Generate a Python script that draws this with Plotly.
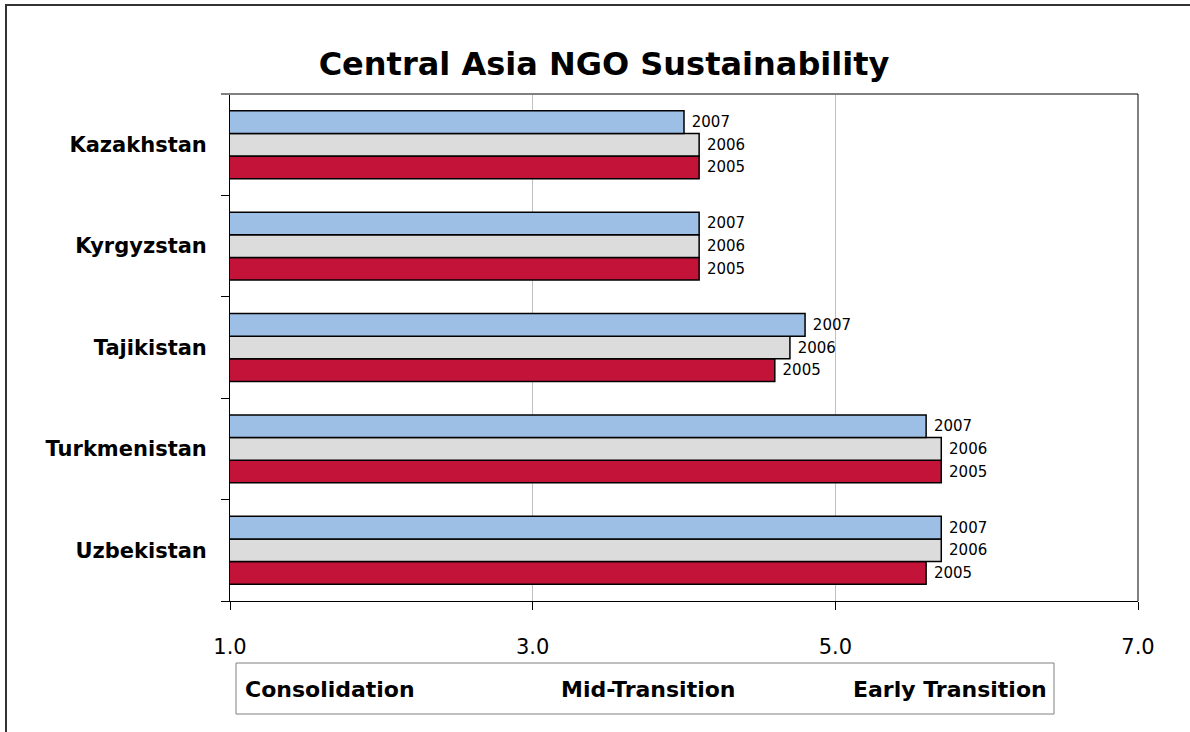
import plotly.graph_objects as go

countries = ["Kazakhstan", "Kyrgyzstan", "Tajikistan", "Turkmenistan", "Uzbekistan"]
years = ["2005", "2006", "2007"]
v2005 = [4.1, 4.1, 4.6, 5.7, 5.6]
v2006 = [4.1, 4.1, 4.7, 5.7, 5.7]
v2007 = [4.0, 4.1, 4.8, 5.6, 5.7]
x_ticks = [1, 3, 5, 7]
x_tick_labels = ["1.0", "3.0", "5.0", "7.0"]
stage_labels = ["Consolidation", "Mid-Transition", "Early Transition"]

colors = {"2005": "#C41339", "2006": "#DCDCDC", "2007": "#9DBFE5"}
series = {"2005": v2005, "2006": v2006, "2007": v2007}

FONT = "DejaVu Sans"
W, H = 1190, 732
L, R, T, B = 230, 1138, 94, 601

def px(x):
    return (x - L) / (R - L)

def py(y):
    return (B - y) / (B - T)

fig = go.Figure()
for yr in years:
    fig.add_trace(go.Bar(
        y=countries, x=series[yr], orientation="h", name=yr,
        marker=dict(color=colors[yr], line=dict(color="black", width=1.5)),
        text=[yr] * len(countries), texttemplate="\u00a0%{text}",
        textposition="outside", constraintext="none", cliponaxis=False,
        textfont=dict(family=FONT, size=15, color="black"),
    ))

fig.update_layout(
    width=W, height=H,
    margin=dict(l=L, r=W - R, t=T, b=H - B, autoexpand=False),
    paper_bgcolor="white", plot_bgcolor="white",
    barmode="group", bargap=0.33, bargroupgap=0,
    showlegend=False,
    title=dict(text="<b>Central Asia NGO Sustainability</b>",
               x=604 / W, xanchor="center", y=1 - 64 / H, yanchor="middle",
               font=dict(family=FONT, size=32, color="black")),
    xaxis=dict(range=[1, 7], tickvals=x_ticks, ticktext=x_tick_labels,
               showgrid=True, gridcolor="#C0C0C0", gridwidth=1,
               showline=True, linecolor="black", linewidth=1,
               ticks="outside", ticklen=8, tickcolor="black",
               ticklabelstandoff=19,
               tickfont=dict(family=FONT, size=21, color="black"),
               zeroline=False, fixedrange=True),
    yaxis=dict(categoryorder="array", categoryarray=countries[::-1],
               showline=True, linecolor="black", linewidth=1,
               ticks="outside", ticklen=8, tickcolor="black",
               tickson="boundaries", ticklabelstandoff=18,
               tickfont=dict(family=FONT, size=21, color="black", weight="bold"),
               showgrid=False, fixedrange=True),
)

# plot area top (gray) and right (black) borders
fig.add_shape(type="line", xref="paper", yref="paper",
              x0=px(221), x1=1, y0=1, y1=1, line=dict(color="#808080", width=2))
fig.add_shape(type="line", xref="paper", yref="paper",
              x0=1, x1=1, y0=0, y1=1, line=dict(color="black", width=1))

# outer chart border (top + left visible)
fig.add_shape(type="rect", xref="paper", yref="paper",
              x0=px(6), x1=px(1205), y0=py(5), y1=py(745),
              line=dict(color="#333333", width=2), fillcolor="rgba(0,0,0,0)")

# stage box
fig.add_shape(type="rect", xref="paper", yref="paper",
              x0=px(236), x1=px(1054), y0=py(663), y1=py(714),
              line=dict(color="#808080", width=1), fillcolor="white")
stage_pos = [(243, "left"), (648, "center"), (1049, "right")]
for lab, (xp, anc) in zip(stage_labels, stage_pos):
    fig.add_annotation(text="<b>" + lab + "</b>", xref="paper", yref="paper",
                       x=px(xp), y=py(689), xanchor=anc, yanchor="middle",
                       showarrow=False,
                       font=dict(family=FONT, size=22, color="black"))

fig.write_html("out.html", config={"displayModeBar": False},
               post_script="document.body.style.margin='0';document.body.style.padding='0';")
